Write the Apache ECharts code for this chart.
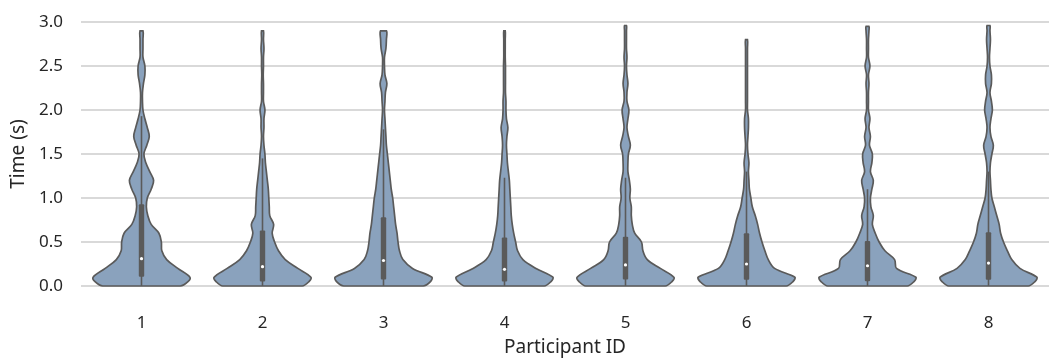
<!DOCTYPE html>
<html><head><meta charset="utf-8">
<script src="https://cdn.jsdelivr.net/npm/echarts@6/dist/echarts.min.js"></script>
<style>html,body{margin:0;padding:0;background:#fff}#c{width:1049px;height:362px}</style>
</head><body><div id="c"></div>
<script>
// Participant categories
const participants = ['1', '2', '3', '4', '5', '6', '7', '8'];

// Time levels (s) at which the violin half-widths were read
const timeLevels = [0, 0.05, 0.1, 0.2, 0.3, 0.4, 0.5, 0.6, 0.7, 0.8, 0.9, 1.0, 1.1, 1.2, 1.3, 1.4, 1.5, 1.6, 1.7, 1.8, 1.9, 2.0, 2.1, 2.2, 2.3, 2.4, 2.5, 2.6, 2.7, 2.8, 2.9];

// Relative density (half-width, 1 = widest) per participant at each time level
const density1 = [0.80, 0.96, 1.0, 0.75, 0.52, 0.42, 0.41, 0.36, 0.20, 0.13, 0.10, 0.12, 0.20, 0.25, 0.17, 0.09, 0.05, 0.11, 0.16, 0.12, 0.07, 0.03, 0.02, 0.02, 0.04, 0.07, 0.07, 0.03, 0.03, 0.03, 0.03];
const density2 = [0.82, 0.96, 1.0, 0.73, 0.47, 0.33, 0.25, 0.20, 0.23, 0.15, 0.14, 0.13, 0.12, 0.10, 0.08, 0.06, 0.05, 0.03, 0.02, 0.03, 0.03, 0.05, 0.02, 0.02, 0.02, 0.015, 0.02, 0.02, 0.03, 0.02, 0.02];
const density3 = [0.82, 0.97, 1.0, 0.60, 0.40, 0.33, 0.30, 0.28, 0.25, 0.23, 0.21, 0.19, 0.16, 0.14, 0.12, 0.10, 0.08, 0.06, 0.05, 0.04, 0.03, 0.02, 0.03, 0.04, 0.07, 0.03, 0.02, 0.02, 0.05, 0.06, 0.03];
const density4 = [0.82, 0.96, 1.0, 0.65, 0.38, 0.27, 0.23, 0.19, 0.16, 0.14, 0.13, 0.12, 0.11, 0.10, 0.08, 0.06, 0.05, 0.04, 0.05, 0.07, 0.04, 0.03, 0.03, 0.02, 0.02, 0.02, 0.02, 0.015, 0.015, 0.015, 0.015];
const density5 = [0.82, 0.96, 1.0, 0.72, 0.45, 0.36, 0.33, 0.19, 0.14, 0.12, 0.12, 0.09, 0.10, 0.08, 0.05, 0.05, 0.06, 0.10, 0.06, 0.03, 0.05, 0.07, 0.03, 0.03, 0.05, 0.03, 0.02, 0.03, 0.02, 0.02, 0.02];
const density6 = [0.82, 0.96, 1.0, 0.58, 0.45, 0.38, 0.32, 0.27, 0.23, 0.18, 0.12, 0.09, 0.06, 0.05, 0.04, 0.05, 0.03, 0.02, 0.03, 0.04, 0.04, 0.02, 0.02, 0.02, 0.02, 0.02, 0.02, 0.02, 0.02, 0.02, 0.02];
const density7 = [0.82, 0.96, 1.0, 0.60, 0.56, 0.36, 0.24, 0.16, 0.10, 0.12, 0.07, 0.06, 0.09, 0.12, 0.06, 0.09, 0.10, 0.04, 0.06, 0.03, 0.05, 0.02, 0.02, 0.02, 0.03, 0.02, 0.05, 0.02, 0.02, 0.02, 0.03];
const density8 = [0.82, 0.96, 1.0, 0.65, 0.48, 0.39, 0.31, 0.25, 0.22, 0.17, 0.12, 0.07, 0.05, 0.04, 0.03, 0.04, 0.07, 0.10, 0.05, 0.03, 0.05, 0.08, 0.06, 0.03, 0.06, 0.06, 0.03, 0.02, 0.03, 0.04, 0.03];
const densities = [density1, density2, density3, density4, density5, density6, density7, density8];

// Maximum observed time per participant (violin top)
const maxTimes = [2.9, 2.9, 2.9, 2.9, 2.96, 2.8, 2.95, 2.96];

// Box statistics per participant
const q1Values = [0.105, 0.05, 0.075, 0.05, 0.075, 0.07, 0.055, 0.07];
const medianValues = [0.31, 0.22, 0.29, 0.19, 0.24, 0.25, 0.23, 0.26];
const q3Values = [0.93, 0.63, 0.78, 0.55, 0.56, 0.60, 0.51, 0.61];
const whiskerLow = [0.0, 0.0, 0.0, 0.0, 0.0, 0.0, 0.0, 0.0];
const whiskerHigh = [1.93, 1.45, 1.78, 1.23, 1.23, 1.3, 1.1, 1.3];

const FILL = '#8aa2bd';
const EDGE = '#5a5a5a';
const FONT = 'Noto Sans';
const TEXT = '#262626';

function renderViolin(params, api) {
  const i = params.dataIndex;
  const dens = densities[i];
  const top = maxTimes[i];
  const base = api.coord([i, 0]);
  const cx = base[0];
  const half = (api.coord([1, 0])[0] - api.coord([0, 0])[0]) * 0.4;
  const right = [];
  let lastW = 0;
  for (let k = 0; k < timeLevels.length; k++) {
    const t = timeLevels[k];
    if (t >= top) break;
    const w = dens[k] * half;
    lastW = w;
    right.push([cx + w, api.coord([i, t])[1]]);
  }
  const yTop = api.coord([i, top])[1];
  right.push([cx + lastW, yTop]);
  const left = right.slice().reverse().map(p => [2 * cx - p[0], p[1]]);
  const pts = right.concat(left);
  const yq1 = api.coord([i, q1Values[i]])[1];
  const yq3 = api.coord([i, q3Values[i]])[1];
  const ymed = api.coord([i, medianValues[i]])[1];
  const ywl = api.coord([i, whiskerLow[i]])[1];
  const ywh = api.coord([i, whiskerHigh[i]])[1];
  return {
    type: 'group',
    children: [
      { type: 'polygon',
        shape: { points: pts, smooth: 0.35, smoothConstraint: [[cx - half - 1, yTop], [cx + half + 1, base[1]]] },
        style: { fill: FILL, stroke: EDGE, lineWidth: 1.7 } },
      { type: 'line', shape: { x1: cx, y1: ywl, x2: cx, y2: ywh },
        style: { stroke: EDGE, lineWidth: 1.6 } },
      { type: 'rect', shape: { x: cx - 2.7, y: yq3, width: 5.4, height: yq1 - yq3, r: 1 },
        style: { fill: EDGE } },
      { type: 'circle', shape: { cx: cx, cy: ymed, r: 1.6 },
        style: { fill: '#ffffff' } }
    ]
  };
}

const chart = echarts.init(document.getElementById('c'), null, { renderer: 'canvas' });
chart.setOption({
  animation: false,
  backgroundColor: '#ffffff',
  grid: { left: 81, right: 0, top: 22, bottom: 74 },
  xAxis: {
    type: 'category',
    data: participants,
    boundaryGap: true,
    axisLine: { show: false },
    axisTick: { show: false },
    axisLabel: { margin: 29, fontSize: 17, color: TEXT, fontFamily: FONT },
    name: 'Participant ID',
    nameLocation: 'middle',
    nameGap: 52,
    nameTextStyle: { fontSize: 19, color: TEXT, fontFamily: FONT }
  },
  yAxis: {
    type: 'value',
    min: 0, max: 3, interval: 0.5,
    axisLine: { show: false },
    axisTick: { show: false },
    axisLabel: { margin: 18, fontSize: 17, color: TEXT, fontFamily: FONT, formatter: v => v.toFixed(1) },
    splitLine: { lineStyle: { color: '#cccccc', width: 1.5 } },
    name: 'Time (s)',
    nameLocation: 'middle',
    nameGap: 50,
    nameTextStyle: { fontSize: 19, color: TEXT, fontFamily: FONT }
  },
  series: [{
    type: 'custom',
    renderItem: renderViolin,
    data: participants.map((p, i) => [i, 0]),
    encode: { x: 0, y: 1 },
    z: 5
  }]
});
</script>
</body></html>
